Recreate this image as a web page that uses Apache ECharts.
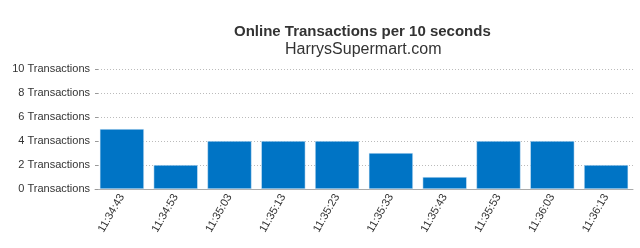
<!DOCTYPE html>
<html><head><meta charset="utf-8">
<script src="https://cdn.jsdelivr.net/npm/echarts@6/dist/echarts.min.js"></script>
<style>html,body{margin:0;padding:0;background:#fff}#c{width:640px;height:248px}</style>
</head><body><div id="c"></div>
<script>
var categories = ['11:34:43','11:34:53','11:35:03','11:35:13','11:35:23','11:35:33','11:35:43','11:35:53','11:36:03','11:36:13'];
var values = [5,2,4,4,4,3,1,4,4,2];
var yTicks = [0,2,4,6,8,10];
var chart = echarts.init(document.getElementById('c'), null, {renderer:'canvas'});
var font = '"Liberation Sans", Arial, Helvetica, sans-serif';
chart.setOption({
  animation:false,
  textStyle:{fontFamily:font},
  title:[{text:'Online Transactions per 10 seconds', left:234, top:24, padding:0,
    textStyle:{fontSize:15, fontWeight:'bold', color:'#333', fontFamily:font}},
    {text:'HarrysSupermart.com', left:285, top:42, padding:0,
    textStyle:{fontSize:16, fontWeight:'normal', color:'#333', fontFamily:font}}],
  grid:{left:95, right:7, top:69, bottom:59, containLabel:false},
  xAxis:{type:'category', data:categories,
    axisLine:{lineStyle:{color:'#aaa', width:1}},
    axisTick:{show:false},
    axisLabel:{rotate:60, color:'#333', fontSize:11, margin:6, fontFamily:font, interval:0}},
  yAxis:{type:'value', min:yTicks[0], max:yTicks[yTicks.length-1], interval:2,
    axisLine:{show:false},
    axisTick:{show:true, inside:true, length:3, lineStyle:{color:'#999'}},
    splitLine:{lineStyle:{color:'#bbb', type:[1,2], width:1}},
    axisLabel:{formatter:function(v){return v+' Transactions';}, color:'#333', fontSize:11, margin:5, fontFamily:font}},
  series:[{type:'bar', data:values, barWidth:'82%',
    itemStyle:{color:'#0074c5', borderColor:'#e6f0fa', borderWidth:0.5}}]
});
</script></body></html>
